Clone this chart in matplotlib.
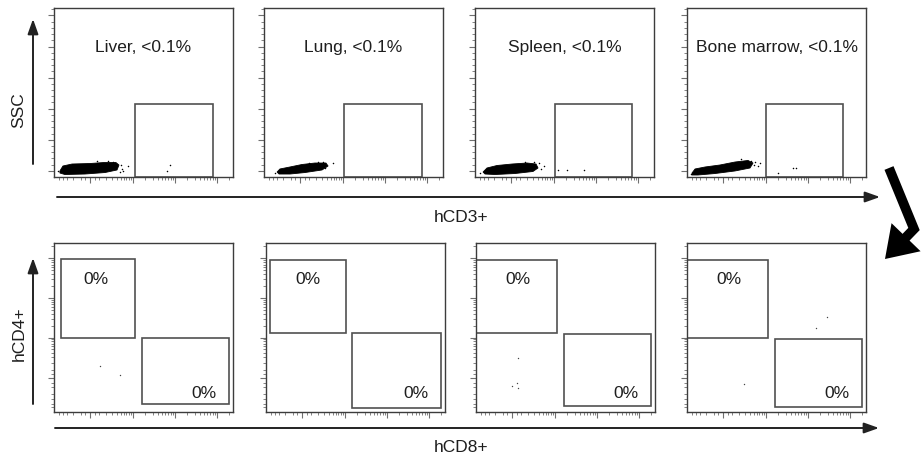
import numpy as np
import matplotlib
matplotlib.use("Agg")
import matplotlib.pyplot as plt
from matplotlib.patches import Rectangle, Polygon, FancyArrowPatch
from matplotlib.path import Path

plt.rcParams['font.family'] = ['Liberation Sans', 'DejaVu Sans']

W, H = 921, 461

# ---- data -------------------------------------------------------------
tissues = ["Liver", "Lung", "Spleen", "Bone marrow"]
cd3_pct = ["<0.1%", "<0.1%", "<0.1%", "<0.1%"]
cd4_pct = ["0%", "0%", "0%", "0%"]
cd8_pct = ["0%", "0%", "0%", "0%"]

# outline of the dense hCD3-negative population:
# display channel (x) and SSC in thousands (y)
pop_x = [
    [33, 50, 101, 201, 279, 346, 363, 352, 285, 173, 61, 33],
    [73, 89, 145, 212, 285, 346, 358, 324, 229, 145, 84],
    [45, 67, 123, 207, 291, 341, 352, 324, 223, 112, 56],
    [28, 45, 101, 184, 268, 341, 369, 352, 268, 156, 61, 28],
]
pop_y = [
    [-0.3, 7.7, 10.9, 11.7, 13.3, 13.3, 9.3, 1.3, -2.8, -5.2, -6.0, -3.6],
    [-2.0, 2.9, 6.1, 10.1, 12.5, 12.5, 7.7, 1.3, -2.8, -5.2, -5.2],
    [-2.0, 4.5, 8.5, 10.9, 12.5, 10.9, 4.5, -1.1, -4.4, -6.0, -5.2],
    [-3.6, 2.9, 6.1, 9.3, 14.1, 16.6, 12.5, 4.5, -0.3, -4.4, -6.8, -6.8],
]

# sparse events outside the dense population (hCD3 vs SSC)
cd3_ev_x = [[416, 370, 646, 630, 380, 372, 240, 300, 20, 330, 385],
            [385, 60, 330, 300, 340, 250],
            [385, 464, 514, 610, 30, 360, 370, 280, 330],
            [410, 590, 610, 510, 380, 395, 300, 20, 360, 372]]
cd3_ev_y = [[7.7, -2.0, 9.3, -0.3, 3.0, 10.0, 15.0, 15.5, -1.0, 14.5, 0.0],
            [12.5, -3.0, 14.5, 14.0, 4.0, 13.0],
            [7.7, 1.3, 1.3, 1.3, -4.0, 12.0, 3.0, 14.5, 14.0],
            [12.5, 4.5, 4.5, -3.6, 14.0, 7.0, 18.5, -5.0, 16.0, 10.0]]

# hCD3+ gate (channel, SSC)
cd3_gate_x0 = [450, 447, 447, 440]
cd3_gate_x1 = [890, 883, 877, 870]
cd3_gate_y1 = [107, 107, 107, 107]

# events in the hCD3+ gate shown on hCD8 (x) vs hCD4 (y), display channels
cd48_ev_x = [[256, 367], [], [235, 200, 230, 235], [780, 720, 320]]
cd48_ev_y = [[272, 219], [], [320, 154, 170, 140], [560, 500, 166]]

# hCD4+ and hCD8+ gates (display channels)
cd4_gate_x0 = [40, 22, 0, 0]
cd4_gate_x1 = [450, 447, 452, 452]
cd4_gate_y0 = [440, 470, 470, 440]
cd4_gate_y1 = [905, 900, 900, 900]
cd8_gate_x0 = [490, 480, 492, 492]
cd8_gate_x1 = [980, 978, 980, 975]
cd8_gate_y0 = [48, 22, 36, 28]
cd8_gate_y1 = [440, 470, 460, 432]

# ---- helpers ----------------------------------------------------------
def biex(v):
    """Fluorescence value -> display channel (0..1000)."""
    return 1000 * (0.2 + 0.102 * np.arcsinh(np.asarray(v, float) / 192.0))

maj_vals = [0, 1e3, 1e4, 1e5]
min_vals = [-500, -400, -300, -200, -100, -50, 50]
for dec in (100, 1e3, 1e4):
    for m in range(2, 10):
        min_vals.append(m * dec)
min_vals += [100, 2e5]
maj_pos = [p for p in biex(maj_vals) if 0 <= p <= 1000]
min_pos = [p for p in biex(min_vals) if 0 <= p <= 1000]

FRAME = '#3c3c3c'
GATE = '#505050'
TXT = '#1e1e1e'
TICK = '#707070'
FS = 12.5


def style(ax):
    for s in ax.spines.values():
        s.set_color(FRAME)
        s.set_linewidth(1.0)
    ax.tick_params(which='both', direction='out', color=TICK,
                   labelbottom=False, labelleft=False, top=False, right=False)
    ax.tick_params(which='major', length=4, width=0.8)
    ax.tick_params(which='minor', length=2, width=0.6)


def fig_ax(left, top, w, h):
    return fig.add_axes([left / W, 1 - (top + h) / H, w / W, h / H])


fig = plt.figure(figsize=(W / 100, H / 100), dpi=100)
fig.patch.set_facecolor('white')

lefts_top = [54, 264, 475, 687]
lefts_bot = [54, 266, 476, 687]

# ---- top row: hCD3 vs SSC ----------------------------------------------
for i in range(4):
    ax = fig_ax(lefts_top[i], 8, 179, 169)
    ax.set_xlim(0, 1000)
    ax.set_ylim(-10, 262)
    ax.set_xticks(maj_pos)
    ax.set_xticks(min_pos, minor=True)
    ax.set_yticks(np.arange(0, 251, 50))
    ax.set_yticks(np.arange(0, 261, 10), minor=True)
    style(ax)
    ax.add_patch(Polygon(np.column_stack([pop_x[i], pop_y[i]]), closed=True,
                         facecolor='black', edgecolor='black', lw=0.6))
    ax.scatter(cd3_ev_x[i], cd3_ev_y[i], s=1.2, c='black', linewidths=0)
    ax.add_patch(Rectangle((cd3_gate_x0[i], -10),
                           cd3_gate_x1[i] - cd3_gate_x0[i], cd3_gate_y1[i] + 10,
                           fill=False, edgecolor=GATE, lw=1.2, clip_on=False))
    ax.text(0.5, 0.765, f"{tissues[i]}, {cd3_pct[i]}", transform=ax.transAxes,
            ha='center', va='center', fontsize=FS, color=TXT)

# ---- bottom row: hCD8 vs hCD4 ------------------------------------------
for i in range(4):
    ax = fig_ax(lefts_bot[i], 243, 179, 169)
    ax.set_xlim(0, 1000)
    ax.set_ylim(0, 1000)
    ax.set_xticks(maj_pos)
    ax.set_xticks(min_pos, minor=True)
    ax.set_yticks(maj_pos)
    ax.set_yticks(min_pos, minor=True)
    style(ax)
    if cd48_ev_x[i]:
        ax.scatter(cd48_ev_x[i], cd48_ev_y[i], s=1.0, c='#444444', linewidths=0)
    ax.add_patch(Rectangle((cd4_gate_x0[i], cd4_gate_y0[i]),
                           cd4_gate_x1[i] - cd4_gate_x0[i],
                           cd4_gate_y1[i] - cd4_gate_y0[i],
                           fill=False, edgecolor=GATE, lw=1.2))
    ax.add_patch(Rectangle((cd8_gate_x0[i], cd8_gate_y0[i]),
                           cd8_gate_x1[i] - cd8_gate_x0[i],
                           cd8_gate_y1[i] - cd8_gate_y0[i],
                           fill=False, edgecolor=GATE, lw=1.2))
    ax.text(0.235, 0.785, cd4_pct[i], transform=ax.transAxes,
            ha='center', va='center', fontsize=FS, color=TXT)
    ax.text(0.84, 0.11, cd8_pct[i], transform=ax.transAxes,
            ha='center', va='center', fontsize=FS, color=TXT)

# ---- axis arrows and labels -------------------------------------------
def P(x, y):
    return (x / W, 1 - y / H)


def axis_arrow(p0, p1):
    fig.add_artist(FancyArrowPatch(P(*p0), P(*p1), transform=fig.transFigure,
                                   arrowstyle='-|>,head_length=0.9,head_width=0.32',
                                   mutation_scale=10, lw=1.4, color='#222222',
                                   shrinkA=0, shrinkB=0))


axis_arrow((33, 164), (33, 19))
axis_arrow((57, 197), (880, 197))
axis_arrow((33, 404), (33, 258))
axis_arrow((55, 428), (879, 428))

fig.text(*P(19, 110), "SSC", rotation=90, ha='center', va='center',
         fontsize=FS, color=TXT)
fig.text(*P(19, 334), "hCD4+", rotation=90, ha='center', va='center',
         fontsize=FS, color=TXT)
fig.text(*P(461, 217), "hCD3+", ha='center', va='center',
         fontsize=FS, color=TXT)
fig.text(*P(461, 447), "hCD8+", ha='center', va='center',
         fontsize=FS, color=TXT)

# big bent arrow linking the two rows
bend = Path([P(889, 168), P(914, 229), P(885, 259)],
            [Path.MOVETO, Path.LINETO, Path.LINETO])
fig.add_artist(FancyArrowPatch(path=bend, transform=fig.transFigure,
                               arrowstyle='-|>,head_length=1.2,head_width=0.8',
                               mutation_scale=10, lw=7, color='black',
                               joinstyle='miter', capstyle='butt'))

fig.savefig('out.png', dpi=100, facecolor='white')
